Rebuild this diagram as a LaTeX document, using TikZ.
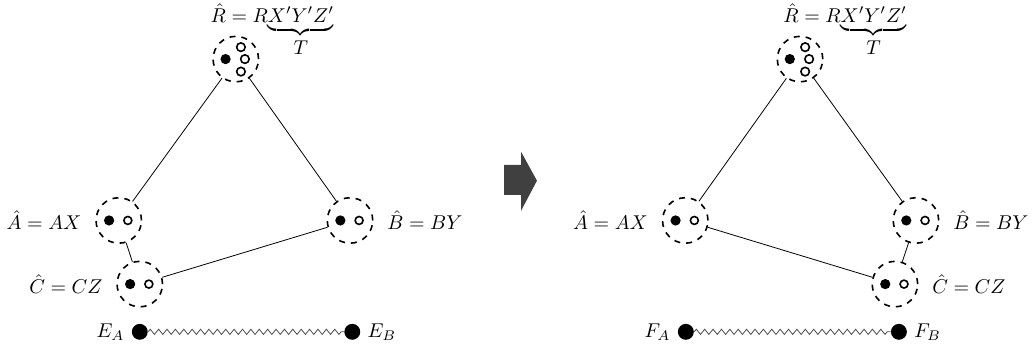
\documentclass[tikz,border=0pt]{standalone}
\usetikzlibrary{positioning,decorations.pathmorphing}

\tikzset{
  party/.style={draw, circle, dashed, thick, minimum size=0.8cm, inner sep=0pt},
  ball/.style={circle, fill, minimum size=0.28cm, inner sep=0pt},
  spring/.style={black!70, decorate, decoration={zigzag, segment length=4.2pt, amplitude=1.3pt}},
}
% one full and one empty system inside a party
\newcommand{\pairdots}[1]{%
  \fill ([xshift=-0.17cm]#1.center) circle (0.09);
  \draw[thick] ([xshift=0.16cm]#1.center) circle (0.07);
}
% one full and three empty systems inside the referee
\newcommand{\refdots}[1]{%
  \fill ([xshift=-0.18cm]#1.center) circle (0.09);
  \draw[thick] ([shift={(0.09,0.21)}]#1.center) circle (0.075);
  \draw[thick] ([xshift=0.16cm]#1.center) circle (0.075);
  \draw[thick] ([shift={(0.09,-0.22)}]#1.center) circle (0.075);
}

\begin{document}
\begin{tikzpicture}[x=1cm,y=1cm]
\useasboundingbox (0,0) rectangle (18.18,6.21);

% before
\node[party] (R) at (4.15,5.17) {};
\node[party] (A) at (2.09,2.33) {};
\node[party] (B) at (6.16,2.33) {};
\node[party] (C) at (2.46,1.21) {};
\node[ball] (EA) at (2.46,0.37) {};
\node[ball] (EB) at (6.20,0.37) {};
\refdots{R}
\pairdots{A}
\pairdots{B}
\pairdots{C}
\node[anchor=base west, inner sep=0pt] (Rlab) at (3.70,5.81) {$\hat{R} = R{\underbrace{X'Y'Z'}_{\textstyle T}}$};
\node[left=0.12cm of A] (Alab) {$\hat{A} = AX$};
\node[right=0.12cm of B] (Blab) {$\hat{B} = BY$};
\node[left=0.12cm of C] (Clab) {$\hat{C} = CZ$};
\node[left=0cm of EA] (EAlab) {$E_A$};
\node[right=0cm of EB] (EBlab) {$E_B$};
\draw (R) -- (A);
\draw (R) -- (B);
\draw (A) -- (C);
\draw (C) -- (B);
\draw[spring] (EA) -- (EB);

% step
\fill[black!75] (8.87,3.31) -- (9.17,3.31) -- (9.17,3.54) -- (9.45,3.03) -- (9.17,2.50) -- (9.17,2.78) -- (8.87,2.78) -- cycle;

% after
\node[party] (R2) at (14.08,5.17) {};
\node[party] (A2) at (12.06,2.33) {};
\node[party] (B2) at (16.12,2.33) {};
\node[party] (C2) at (15.75,1.21) {};
\node[ball] (FA) at (12.07,0.37) {};
\node[ball] (FB) at (15.82,0.37) {};
\refdots{R2}
\pairdots{A2}
\pairdots{B2}
\pairdots{C2}
\node[anchor=base west, inner sep=0pt] (R2lab) at (13.78,5.81) {$\hat{R} = R{\underbrace{X'Y'Z'}_{\textstyle T}}$};
\node[left=0.12cm of A2] (A2lab) {$\hat{A} = AX$};
\node[right=0.12cm of B2] (B2lab) {$\hat{B} = BY$};
\node[right=0.12cm of C2] (C2lab) {$\hat{C} = CZ$};
\node[left=0cm of FA] (FAlab) {$F_A$};
\node[right=0cm of FB] (FBlab) {$F_B$};
\draw (R2) -- (A2);
\draw (R2) -- (B2);
\draw (A2) -- (C2);
\draw (B2) -- (C2);
\draw[spring] (FA) -- (FB);
\end{tikzpicture}
\end{document}
